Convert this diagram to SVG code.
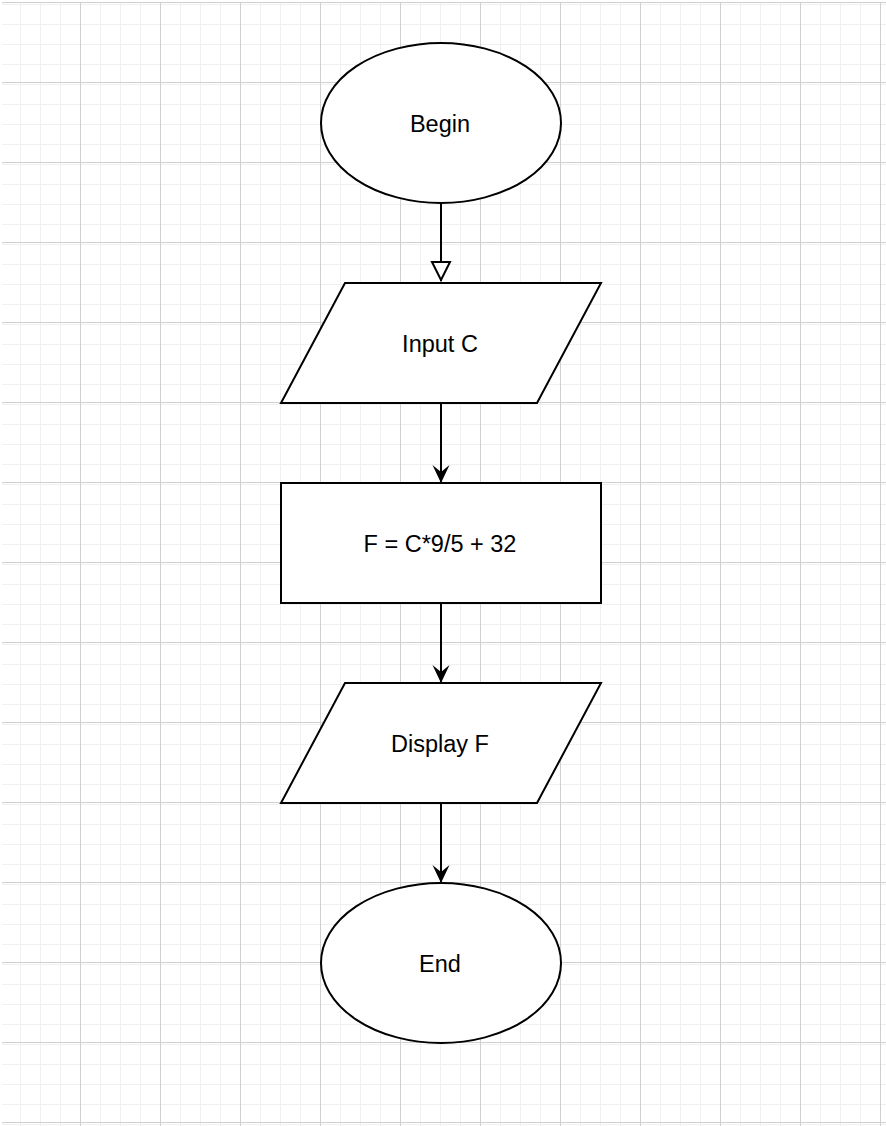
<svg xmlns="http://www.w3.org/2000/svg" width="886" height="1126" viewBox="0 0 886 1126">
  <defs>
    <pattern id="minor" x="0" y="2" width="20" height="20" patternUnits="userSpaceOnUse">
      <path d="M0.5 0V20M0 0.5H20" fill="none" stroke="#f0f0f0" stroke-width="1"/>
    </pattern>
    <pattern id="major" x="0" y="2" width="80" height="80" patternUnits="userSpaceOnUse">
      <rect width="80" height="80" fill="url(#minor)"/>
      <path d="M0.5 0V80M0 0.5H80" fill="none" stroke="#d0d0d0" stroke-width="1"/>
    </pattern>
    <marker id="hollow" viewBox="0 0 22 22" refX="11" refY="21" markerWidth="22" markerHeight="22" markerUnits="userSpaceOnUse" orient="0">
      <path d="M2 2 L20 2 L11 20 Z" fill="#ffffff" stroke="#000" stroke-width="2"/>
    </marker>
    <marker id="classic" viewBox="0 0 18 18" refX="9" refY="18" markerWidth="18" markerHeight="18" markerUnits="userSpaceOnUse" orient="0">
      <path d="M0.5 0 L9 7 L17.5 0 L9 18 Z" fill="#000"/>
    </marker>
  </defs>
  <style>
    .shape { fill: #ffffff; stroke: #000000; stroke-width: 2; }
    .label { font-family: "Liberation Sans", Arial, sans-serif; font-size: 23.5px; fill: #000; text-anchor: middle; }
    .edge { fill: none; stroke: #000; stroke-width: 2; }
  </style>
  <rect x="2" y="2" width="884" height="1124" fill="#ffffff"/>
  <rect x="2" y="2" width="884" height="1124" fill="url(#major)"/>

  <g id="connectors">
    <path class="edge" d="M441 203 V281" marker-end="url(#hollow)"/>
    <path class="edge" d="M441 403 V483" marker-end="url(#classic)"/>
    <path class="edge" d="M441 603 V683" marker-end="url(#classic)"/>
    <path class="edge" d="M441 803 V883" marker-end="url(#classic)"/>
  </g>

  <g id="begin">
    <ellipse class="shape" cx="441" cy="123" rx="120" ry="80"/>
    <text class="label" x="440" y="131.7">Begin</text>
  </g>
  <g id="input">
    <polygon class="shape" points="345,283 601,283 537,403 281,403"/>
    <text class="label" x="440" y="351.7">Input C</text>
  </g>
  <g id="process">
    <rect class="shape" x="281" y="483" width="320" height="120"/>
    <text class="label" x="440" y="551.7">F = C*9/5 + 32</text>
  </g>
  <g id="display">
    <polygon class="shape" points="345,683 601,683 537,803 281,803"/>
    <text class="label" x="440" y="751.7">Display F</text>
  </g>
  <g id="end">
    <ellipse class="shape" cx="441" cy="963" rx="120" ry="80"/>
    <text class="label" x="440" y="971.7">End</text>
  </g>
</svg>
